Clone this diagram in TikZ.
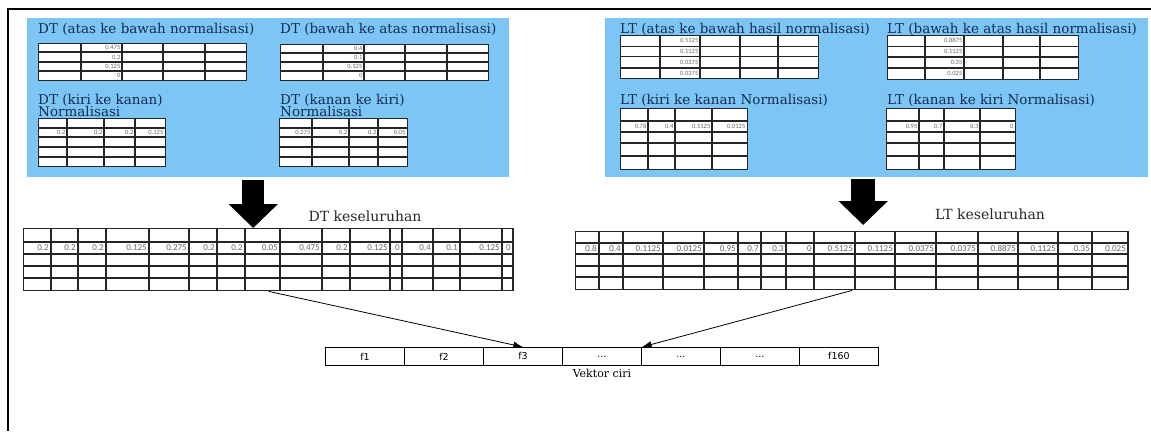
\documentclass[tikz,border=0pt]{standalone}
\usepackage{fontspec}
\setmainfont{DejaVu Serif}
\newfontfamily\angka{Carlito}
\newfontfamily\sel{DejaVu Sans}
\usepackage{tikz}
\usetikzlibrary{arrows.meta}
\definecolor{biru}{RGB}{124,197,244}
\definecolor{tinta}{RGB}{20,44,80}
\newcommand{\panah}{-{Latex[length=3.4mm,width=2.4mm]}}
\newcommand{\besar}{-{Triangle[length=24pt,width=48pt]}}
\newcommand{\titik}{...}

\begin{document}
\begin{tikzpicture}[x=1pt,y=-1pt,
  panel/.style={fill=biru,anchor=north west,inner sep=0pt},
  judul/.style={anchor=base west,inner sep=0pt,text=tinta,font=\fontsize{13.5}{14}\selectfont},
  tab/.style={draw=black!85,line width=1.4pt,fill=white,anchor=north west,inner sep=0pt},
  garis/.style={draw=black!85,line width=1.4pt},
  nilai/.style={anchor=east,inner sep=0.5pt,text=black!60,font=\angka\fontsize{6.5}{7}\selectfont},
  nilaib/.style={anchor=east,inner sep=0.5pt,text=black!60,font=\angka\fontsize{9}{10}\selectfont},
  kotak/.style={draw,line width=0.9pt,anchor=north west,inner sep=0pt,minimum width=79pt,minimum height=18pt,font=\sel\fontsize{9.5}{10}\selectfont}]
\useasboundingbox (0,0) rectangle (1151,431);
%bingkai
\draw[line width=2pt] (8,431) -- (8,8.5) -- (1151,8.5);
\node[panel,minimum width=482pt,minimum height=159pt] (dtpanel) at (27,18) {};
\node[panel,minimum width=543pt,minimum height=159pt] (ltpanel) at (605,18) {};
%DT atas ke bawah
\node[judul] (tdta) at (38,33) {DT (atas ke bawah normalisasi)};
\node[tab,minimum width=208pt,minimum height=37pt] (dta) at (38,43) {};
\foreach \x in {81,122,163,205} \draw[garis] (\x,43) -- (\x,80);
\foreach \y in {52,62,71} \draw[garis] (38,\y) -- (246,\y);
\foreach \v/\y [count=\i] in {0.475/47.5,0.2/57,0.125/66.5,0/75.5}
  \node[nilai] (dta\i) at (121,\y) {\v};
%DT bawah ke atas
\node[judul] (tdtb) at (280,33) {DT (bawah ke atas normalisasi)};
\node[tab,minimum width=208pt,minimum height=36pt] (dtb) at (280,44) {};
\foreach \x in {323,364,405,447} \draw[garis] (\x,44) -- (\x,80);
\foreach \y in {53,62,71} \draw[garis] (280,\y) -- (488,\y);
\foreach \v/\y [count=\i] in {0.4/48.5,0.1/57.5,0.125/66.5,0/75.5}
  \node[nilai] (dtb\i) at (363,\y) {\v};
%DT kiri ke kanan
\node[judul] (tdtc) at (38,104) {DT (kiri ke kanan)};
\node[judul] (tdtc2) at (38,116) {Normalisasi};
\node[tab,minimum width=127pt,minimum height=48pt] (dtc) at (38,118) {};
\foreach \x in {67,104,135} \draw[garis] (\x,118) -- (\x,166);
\foreach \y in {128,137,147,157} \draw[garis] (38,\y) -- (165,\y);
\foreach \v/\x [count=\i] in {0.2/66,0.2/103,0.2/134,0.125/164}
  \node[nilai] (dtc\i) at (\x,132.5) {\v};
%DT kanan ke kiri
\node[judul] (tdtd) at (280,104) {DT (kanan ke kiri)};
\node[judul] (tdtd2) at (280,116) {Normalisasi};
\node[tab,minimum width=128pt,minimum height=48pt] (dtd) at (279,118) {};
\foreach \x in {312,349,378} \draw[garis] (\x,118) -- (\x,166);
\foreach \y in {128,137,147,157} \draw[garis] (279,\y) -- (407,\y);
\foreach \v/\x [count=\i] in {0.275/311,0.2/348,0.2/377,0.05/406}
  \node[nilai] (dtd\i) at (\x,132.5) {\v};
%LT atas ke bawah
\node[judul] (tlta) at (620,33) {LT (atas ke bawah hasil normalisasi)};
\node[tab,minimum width=198pt,minimum height=43pt] (lta) at (620,35) {};
\foreach \x in {660,700,740,778} \draw[garis] (\x,35) -- (\x,78);
\foreach \y in {46.5,56.5,68} \draw[garis] (620,\y) -- (818,\y);
\foreach \v/\y [count=\i] in {0.5125/40.75,0.1125/51.5,0.0375/62.25,0.0375/73}
  \node[nilai] (lta\i) at (699,\y) {\v};
%LT bawah ke atas
\node[judul] (tltb) at (887,33) {LT (bawah ke atas hasil normalisasi)};
\node[tab,minimum width=191pt,minimum height=44pt] (ltb) at (887,35) {};
\foreach \x in {925,964,1003,1040} \draw[garis] (\x,35) -- (\x,79);
\foreach \y in {46.5,57,68} \draw[garis] (887,\y) -- (1078,\y);
\foreach \v/\y [count=\i] in {0.8875/40.75,0.1125/51.75,0.35/62.5,0.025/73.5}
  \node[nilai] (ltb\i) at (963,\y) {\v};
%LT kiri ke kanan
\node[judul] (tltc) at (620,104) {LT (kiri ke kanan Normalisasi)};
\node[tab,minimum width=127pt,minimum height=61pt] (ltc) at (620,108) {};
\foreach \x in {648,675,712} \draw[garis] (\x,108) -- (\x,169);
\foreach \y in {121,132,143,156} \draw[garis] (620,\y) -- (747,\y);
\foreach \v/\x [count=\i] in {0.78/647,0.4/674,0.1125/711,0.0125/746}
  \node[nilai] (ltc\i) at (\x,126.5) {\v};
%LT kanan ke kiri
\node[judul] (tltd) at (887,104) {LT (kanan ke kiri Normalisasi)};
\node[tab,minimum width=129pt,minimum height=61pt] (ltd) at (886,108) {};
\foreach \x in {919,944,980} \draw[garis] (\x,108) -- (\x,169);
\foreach \y in {121,132,143,156} \draw[garis] (886,\y) -- (1015,\y);
\foreach \v/\x [count=\i] in {0.95/918,0.7/943,0.3/979,0/1014}
  \node[nilai] (ltd\i) at (\x,126.5) {\v};
%DT keseluruhan
\node[judul,anchor=base,font=\fontsize{14}{15}\selectfont,text=black!85] (tdtall) at (365,221) {DT keseluruhan};
\node[tab,minimum width=490pt,minimum height=62pt] (dtall) at (23,228) {};
\foreach \y in {242,254,266,278} \draw[garis] (23,\y) -- (513,\y);
\foreach \r/\v [count=\i] in {51/0.2,78/0.2,106/0.2,149/0.125,189/0.275,217/0.2,245/0.2,280/0.05,
    322/0.475,350/0.2,390/0.125,402/0,433/0.4,460/0.1,502/0.125,513/0}{
  \draw[garis] (\r,228) -- (\r,290);
  \node[nilaib] (dtall\i) at (\r-1.5,248) {\v};
}
%LT keseluruhan
\node[judul,anchor=base,font=\fontsize{14}{15}\selectfont,text=black!85] (tltall) at (990,219) {LT keseluruhan};
\node[tab,minimum width=553pt,minimum height=58pt] (ltall) at (575,231) {};
\foreach \y in {243,254,266,277} \draw[garis] (575,\y) -- (1128,\y);
\foreach \r/\v [count=\i] in {599/0.8,623/0.4,663/0.1125,704/0.0125,738/0.95,761/0.7,786/0.3,814/0,
    855/0.5125,895/0.1125,936/0.0375,978/0.0375,1018/0.8875,1058/0.1125,1092/0.35,1128/0.025}{
  \draw[garis] (\r,231) -- (\r,289);
  \node[nilaib] (ltall\i) at (\r-1.5,248.5) {\v};
}
%panah besar
\draw[\besar,line width=22pt] ([xshift=-15pt,yshift=-3pt]dtpanel.south) -- ([xshift=-15pt]dtpanel.south |- dtall.north);
\draw[\besar,line width=24pt] ([xshift=-13.5pt,yshift=-2pt]ltpanel.south) -- ([xshift=-13.5pt,yshift=6pt]ltpanel.south |- ltall.north);
%vektor ciri
\foreach \t [count=\i] in {f1,f2,f3,\titik,\titik,\titik,f160}
  \node[kotak] (v\i) at ({325+79*(\i-1)},347) {\t};
\node[anchor=north,inner sep=0pt,yshift=-3pt,font=\fontsize{11}{12}\selectfont] (tv) at (v4.south) {\strut Vektor ciri};
\draw[\panah,line width=0.8pt] (dtall.south) -- (v3.north);
\draw[\panah,line width=0.8pt] (ltall.south) -- (v4.north east);
\end{tikzpicture}
\end{document}
